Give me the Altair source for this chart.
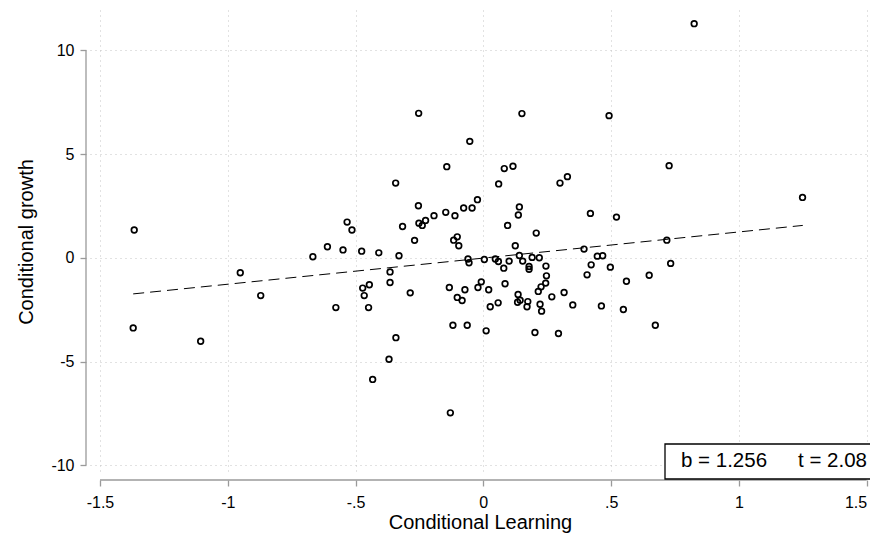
import altair as alt
import pandas as pd

# ---- data ----
learning = [
    -1.366, -0.533, -0.514, -0.610, -0.549, -0.476, -0.253, 0.151, 0.492, -0.053,
    -0.143, 0.082, 0.116, -0.343, 0.060, 0.300, 0.329, -0.254, -0.023, -0.077,
    -0.044, 0.141, 0.137, 0.419, 0.521, -0.193, -0.147, -0.111, -0.226, -0.252,
    -0.239, -0.316, 0.095, 0.207, -0.269, -0.116, -0.102, -0.096, 0.125, 0.394,
    0.825, 0.727, 1.249, 0.718,
    -1.370, -1.106, -0.951, -0.871, -0.667, -0.409, -0.577, -0.472, -0.446, -0.466,
    -0.449, -0.433, -0.369, -0.365, -0.365,
    -0.330, -0.286, -0.342, -0.133, -0.102, -0.083, -0.072, -0.119, -0.063, 0.011,
    -0.129, -0.060, -0.056, 0.004, 0.047, 0.059, 0.080, 0.101, 0.141, 0.154,
    -0.008, -0.021, 0.021, 0.085, 0.027, 0.058, 0.136, 0.134, 0.144, 0.174,
    0.171,
    0.191, 0.219, 0.179, 0.179, 0.245, 0.247, 0.244, 0.226, 0.215, 0.222,
    0.228, 0.268, 0.316, 0.350, 0.202, 0.294, 0.406, 0.422, 0.446, 0.467,
    0.497, 0.560, 0.649, 0.733, 0.462, 0.548, 0.673,
]
growth = [
    1.34, 1.72, 1.34, 0.53, 0.38, 0.32, 6.96, 6.95, 6.85, 5.61,
    4.39, 4.30, 4.41, 3.60, 3.56, 3.60, 3.91, 2.51, 2.80, 2.40,
    2.40, 2.45, 2.06, 2.14, 1.96, 2.03, 2.19, 2.03, 1.80, 1.67,
    1.56, 1.51, 1.56, 1.19, 0.84, 0.85, 1.01, 0.58, 0.58, 0.42,
    11.28, 4.44, 2.91, 0.85,
    -3.38, -4.02, -0.72, -1.82, 0.05, 0.24, -2.40, -1.46, -1.30, -1.82,
    -2.40, -5.86, -4.89, -0.68, -1.19,
    0.10, -1.69, -3.85, -1.43, -1.91, -2.06, -1.54, -3.25, -3.25, -3.52,
    -7.47, -0.06, -0.24, -0.08, -0.06, -0.18, -0.50, -0.16, 0.11, -0.16,
    -1.16, -1.43, -1.54, -1.25, -2.36, -2.17, -1.77, -2.14, -2.04, -2.11,
    -2.36,
    0.02, 0.00, -0.42, -0.55, -0.40, -0.87, -1.22, -1.40, -1.62, -2.24,
    -2.57, -1.88, -1.67, -2.27, -3.60, -3.65, -0.82, -0.34, 0.08, 0.10,
    -0.45, -1.13, -0.84, -0.27, -2.32, -2.49, -3.25,
]
fit_x = [-1.37, 1.25]
fit_y = [-1.74, 1.56]
x_ticks = [-1.5, -1, -0.5, 0, 0.5, 1, 1.5]
y_ticks = [-10, -5, 0, 5, 10]
b_label = "b = 1.256"
t_label = "t = 2.08"

FONT = "Liberation Sans"
W, H = 780, 463
AXIS_GRAY = "#9a9a9a"

pts = pd.DataFrame({"learning": learning, "growth": growth})
fit = pd.DataFrame({"learning": fit_x, "growth": fit_y})

xscale = alt.Scale(domain=[-1.539, 1.513], nice=False, zero=False)
yscale = alt.Scale(domain=[-10.37, 11.94], nice=False, zero=False)

x_axis = alt.Axis(
    values=x_ticks, grid=True, gridDash=[1, 4], gridColor="#c4c4c4", gridWidth=1,
    domain=False, offset=7, tickSize=6, tickColor=AXIS_GRAY, tickWidth=1.3,
    labelFont=FONT, labelFontSize=16, labelColor="black", labelPadding=8,
    labelFlush=5,
    labelExpr="replace(toString(datum.value), '0.', '.')",
    title="Conditional Learning", titleFont=FONT, titleFontSize=20,
    titleFontWeight="normal", titleColor="black", titlePadding=2,
)
y_axis = alt.Axis(
    values=y_ticks, grid=True, gridDash=[1, 4], gridColor="#c4c4c4", gridWidth=1,
    domain=False, offset=4, tickSize=6, tickColor=AXIS_GRAY, tickWidth=1.3,
    labelFont=FONT, labelFontSize=16, labelColor="black", labelPadding=6,
    labelExpr="toString(datum.value)",
    title="Conditional growth", titleFont=FONT, titleFontSize=20,
    titleFontWeight="normal", titleColor="black", titlePadding=14,
)

points = alt.Chart(pts).mark_point(
    shape="circle", filled=False, stroke="black", strokeWidth=1.7, size=32, opacity=1
).encode(
    x=alt.X("learning:Q", scale=xscale, axis=x_axis),
    y=alt.Y("growth:Q", scale=yscale, axis=y_axis),
)

fit_line = alt.Chart(fit).mark_line(
    color="black", strokeWidth=1, strokeDash=[11, 6]
).encode(
    x=alt.X("learning:Q", scale=xscale),
    y=alt.Y("growth:Q", scale=yscale),
)

yline = alt.Chart(pd.DataFrame({"lo": [y_ticks[0]], "hi": [y_ticks[-1]]})).mark_rule(
    color=AXIS_GRAY, strokeWidth=1.3
).encode(
    x=alt.value(-4),
    y=alt.Y("lo:Q", scale=yscale),
    y2="hi:Q",
)
xline = alt.Chart(pd.DataFrame({"lo": [x_ticks[0]], "hi": [x_ticks[-1]]})).mark_rule(
    color=AXIS_GRAY, strokeWidth=1.3
).encode(
    y=alt.value(H + 7),
    x=alt.X("lo:Q", scale=xscale),
    x2="hi:Q",
)

box_df = pd.DataFrame({"b": [b_label], "t": [t_label]})
box = alt.Chart(box_df).mark_rect(
    fill="white", stroke="black", strokeWidth=1.3
).encode(
    x=alt.value(575), x2=alt.value(800), y=alt.value(434), y2=alt.value(469)
)
btext = alt.Chart(box_df).mark_text(
    font=FONT, fontSize=20.5, color="black", align="left", baseline="alphabetic"
).encode(x=alt.value(591), y=alt.value(456.5), text="b:N")
ttext = alt.Chart(box_df).mark_text(
    font=FONT, fontSize=20.5, color="black", align="left", baseline="alphabetic"
).encode(x=alt.value(708), y=alt.value(456.5), text="t:N")

chart = alt.layer(points, fit_line, yline, xline, box, btext, ttext).properties(
    width=W, height=H,
    autosize=alt.AutoSizeParams(type="none"),
    padding={"left": 82, "top": 2, "right": 0, "bottom": 61},
    background="white",
).configure_view(stroke=None)

chart.save("out.html", embed_options={"renderer": "svg", "actions": False})
